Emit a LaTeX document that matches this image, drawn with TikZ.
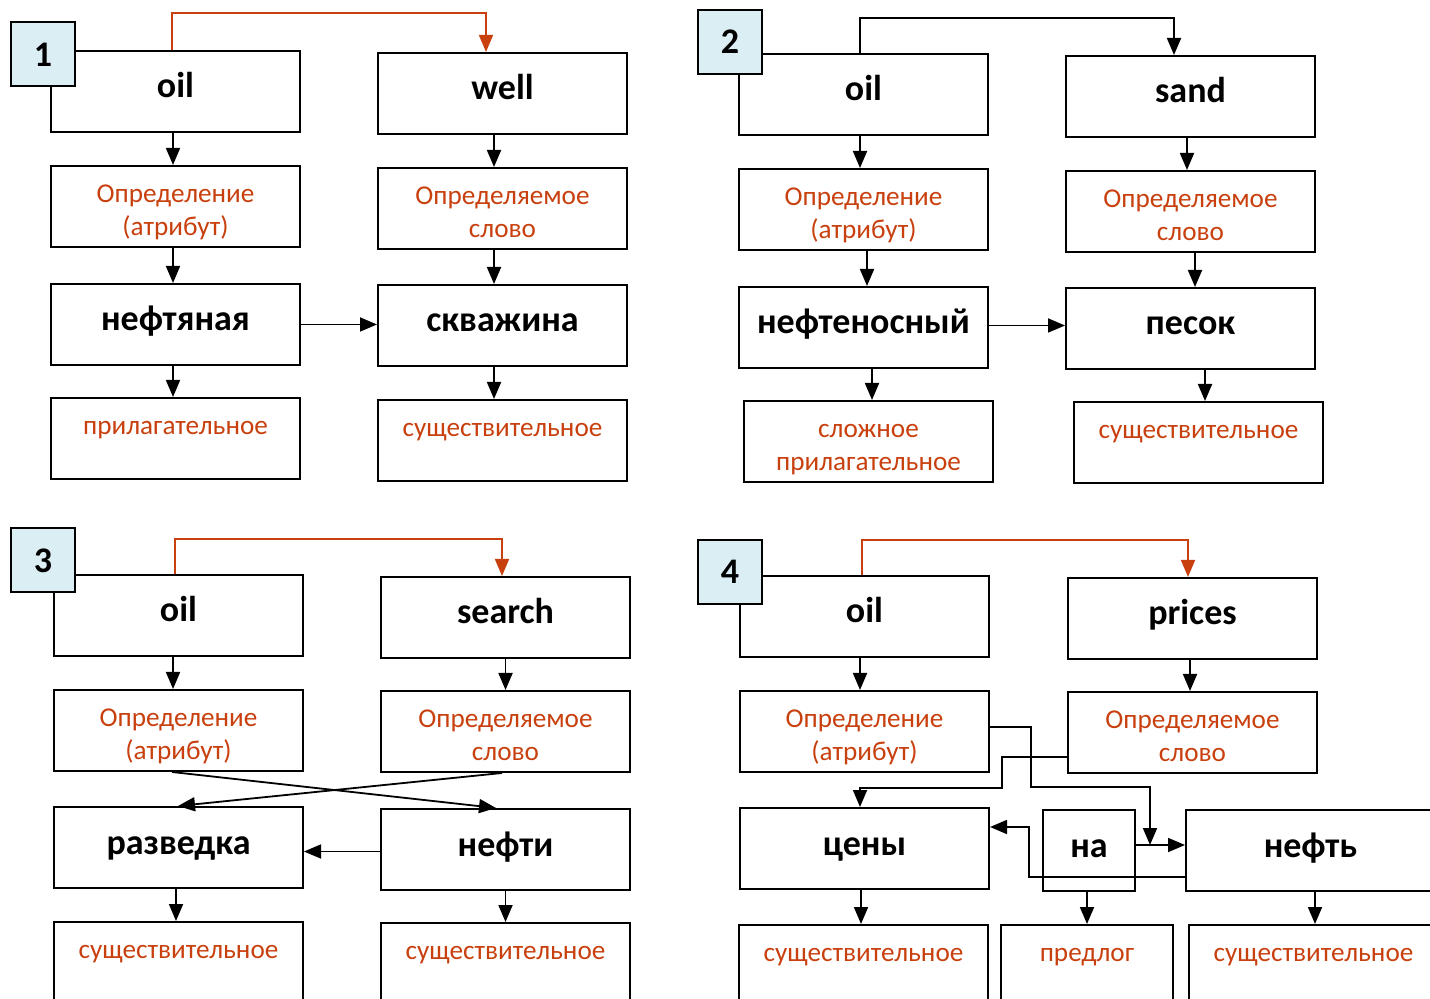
\documentclass[tikz,border=0pt]{standalone}
\usepackage{fontspec}
\setmainfont{Carlito}
\usetikzlibrary{arrows.meta}
\definecolor{termred}{HTML}{C8400E}
\definecolor{tagblue}{HTML}{DBEEF4}
\newcommand{\twolines}[2]{\rule{0pt}{17.8pt}#1\\\strut #2}

\begin{document}
\begin{tikzpicture}[> = {Triangle[length=8.5pt, width=7pt]}, % arrow head style
                x = 0.5pt, y = -0.5pt, % one unit is one pixel of the layout
                line width = 0.9pt % line style
            ]

            \tikzstyle{wordbox}=[draw = black, line width = 1pt, minimum width = 124.5pt,
            minimum height = 40.5pt, inner sep = 0pt, text height = 13pt, text depth = 6.5pt,
            font = \fontsize{18}{22}\selectfont\bfseries]
            \tikzstyle{rolebox}=[draw = black, line width = 1pt, minimum width = 124.5pt,
            minimum height = 40.5pt, inner sep = 0pt, align = center, text = termred,
            font = \fontsize{13.6}{16.6}\selectfont]
            \tikzstyle{tagbox}=[draw = black, fill = tagblue, line width = 1pt,
            minimum size = 32pt, inner sep = 0pt, font = \fontsize{18}{22}\selectfont\bfseries]
            \tikzstyle{linkred}=[draw = termred, line width = 0.8pt]

            \useasboundingbox (0,0) rectangle (1430,999);

            % 1: oil well
            \node[wordbox] (oil1) at (175.5,91.5) {oil}; \node[wordbox] (well1) at
            (502.5,93.5) {well}; \node[rolebox] (attr1) at (175.5,206.5)
            {\twolines{Определение}{(атрибут)}}; \node[rolebox] (def1) at (502.5,208.5)
            {\twolines{Определяемое}{слово}}; \node[wordbox] (adj1) at (175.5,324.5)
            {нефтяная}; \node[wordbox] (head1) at (502.5,325.5) {скважина};
            \node[rolebox] (pos1a) at (175.5,438.5) {\twolines{прилагательное}{}};
            \node[rolebox] (pos1b) at (502.5,440.5) {\twolines{существительное}{}};

            \path[->] ([xshift=-1.25pt]oil1.south) edge ([xshift=-1.25pt]attr1.north);
            \path[->] ([xshift=-4.25pt]well1.south) edge ([xshift=-4.25pt]def1.north);
            \path[->] ([xshift=-1.25pt]attr1.south) edge ([xshift=-1.25pt]adj1.north);
            \path[->] ([xshift=-4.25pt]def1.south) edge ([xshift=-4.25pt]head1.north);
            \path[->] ([xshift=-1.25pt]adj1.south) edge ([xshift=-1.25pt]pos1a.north);
            \path[->] ([xshift=-4.25pt]head1.south) edge ([xshift=-4.25pt]pos1b.north);
            \draw[->] (adj1.east) -- (adj1.east -| head1.west);
            \draw[linkred, ->] ([xshift=-1.75pt]oil1.north) -- ++(0,-37) -|
            ([xshift=-8.25pt]well1.north);
            \node[tagbox] (tag1) at (43,54.5) {1};

            % 2: oil sand
            \node[wordbox] (oil2) at (863.5,94.5) {oil}; \node[wordbox] (sand2) at
            (1190.5,96.5) {sand}; \node[rolebox] (attr2) at (863.5,209.5)
            {\twolines{Определение}{(атрибут)}}; \node[rolebox] (def2) at (1190.5,211.5)
            {\twolines{Определяемое}{слово}}; \node[wordbox] (adj2) at (863.5,327.5)
            {нефтеносный}; \node[wordbox] (head2) at (1190.5,328.5) {песок};
            \node[rolebox] (pos2a) at (868.5,441.5) {\twolines{сложное}{прилагательное}};
            \node[rolebox] (pos2b) at (1198.5,442.5) {\twolines{существительное}{}};

            \path[->] ([xshift=-1.75pt]oil2.south) edge ([xshift=-1.75pt]attr2.north);
            \path[->] ([xshift=-1.75pt]sand2.south) edge ([xshift=-1.75pt]def2.north);
            \path[->] ([xshift=1.75pt]attr2.south) edge ([xshift=1.75pt]adj2.north);
            \path[->] ([xshift=2.25pt]def2.south) edge ([xshift=2.25pt]head2.north);
            \path[->] ([xshift=4.25pt]adj2.south) edge ([xshift=1.75pt]pos2a.north);
            \path[->] ([xshift=7.25pt]head2.south) edge ([xshift=3.25pt]pos2b.north);
            \draw[->] ([yshift=1pt]adj2.east) -- ([yshift=1pt]adj2.east -| head2.west);
            \draw[->] ([xshift=-1.75pt]oil2.north) -- ++(0,-35) -|
            ([xshift=-8.25pt]sand2.north);
            \node[tagbox] (tag2) at (730,42) {2};

            % 3: oil search
            \node[wordbox] (oil3) at (178.5,615.5) {oil}; \node[wordbox] (search3) at
            (505.5,617.5) {search}; \node[rolebox] (attr3) at (178.5,730.5)
            {\twolines{Определение}{(атрибут)}}; \node[rolebox] (def3) at (505.5,731.5)
            {\twolines{Определяемое}{слово}}; \node[wordbox] (head3) at (178.5,847.5)
            {разведка}; \node[wordbox] (dep3) at (505.5,849.5) {нефти};
            \node[rolebox] (pos3a) at (178.5,962.5) {\twolines{существительное}{}};
            \node[rolebox] (pos3b) at (505.5,963.5) {\twolines{существительное}{}};

            \path[->] ([xshift=-2.75pt]oil3.south) edge ([xshift=-2.75pt]attr3.north);
            \path[->] (search3) edge (def3);
            \path[->] ([xshift=-3.25pt]attr3.south) edge ([xshift=-4.75pt]dep3.north);
            \path[->] ([xshift=-1.75pt]def3.south) edge ([xshift=-0.25pt]head3.north);
            \path[->] ([xshift=-1.25pt]head3.south) edge ([xshift=-1.25pt]pos3a.north);
            \path[->] (dep3) edge (pos3b);
            \draw[->] ([yshift=-1pt]dep3.west) -- ([yshift=-1pt]dep3.west -| head3.east);
            \draw[linkred, ->] ([xshift=-1.75pt]oil3.north) -- ++(0,-35) -|
            ([xshift=-1.75pt]search3.north);
            \node[tagbox] (tag3) at (43,560.5) {3};

            % 4: oil prices
            \node[wordbox] (oil4) at (864.5,616.5) {oil}; \node[wordbox] (prices4) at
            (1192.5,618.5) {prices}; \node[rolebox] (attr4) at (864.5,731.5)
            {\twolines{Определение}{(атрибут)}}; \node[rolebox] (def4) at (1192.5,732.5)
            {\twolines{Определяемое}{слово}}; \node[wordbox] (head4) at (864.5,848.5)
            {цены}; \node[wordbox, minimum width = 46pt] (prep4) at (1089,850.5) {на};
            \node[wordbox] (dep4) at (1310.5,850.5) {нефть};
            \node[rolebox] (pos4a) at (863.5,965.5) {\twolines{существительное}{}};
            \node[rolebox, minimum width = 86pt] (pos4b) at (1087,965.5)
            {\twolines{предлог}{}}; \node[rolebox] (pos4c) at (1313.5,965.5)
            {\twolines{существительное}{}};
            \coordinate (link4) at (1150,845);

            \path[->] ([xshift=-2.25pt]oil4.south) edge ([xshift=-2.25pt]attr4.north);
            \path[->] ([xshift=-1.25pt]prices4.south) edge ([xshift=-1.25pt]def4.north);
            \path[->] ([xshift=-1.75pt]head4.south) edge ([xshift=-1.25pt]pos4a.north);
            \path[->] ([xshift=-1pt]prep4.south) edge (pos4b.north);
            \path[->] ([xshift=2.25pt]dep4.south) edge ([xshift=0.75pt]pos4c.north);
            \draw[->] ([yshift=2.75pt]prep4.east) -- ([yshift=2.75pt]dep4.west);
            \draw[->] ([yshift=2.25pt]attr4.east) -- ++(41,0) -- ++(0,60) -| (link4);
            \draw[->] ([yshift=-12.25pt]def4.west) -- ++(-65,0) -- ++(0,31) -|
            ([xshift=-2.25pt]head4.north);
            \draw[->] ([yshift=-13.25pt]dep4.west) -- ++(-156,0) |-
            ([yshift=10.75pt]head4.east);
            \draw[linkred, ->] ([xshift=-1.25pt]oil4.north) -- ++(0,-35) -|
            ([xshift=-2.25pt]prices4.north);
            \node[tagbox] (tag4) at (730,572) {4};
\end{tikzpicture}
\end{document}
